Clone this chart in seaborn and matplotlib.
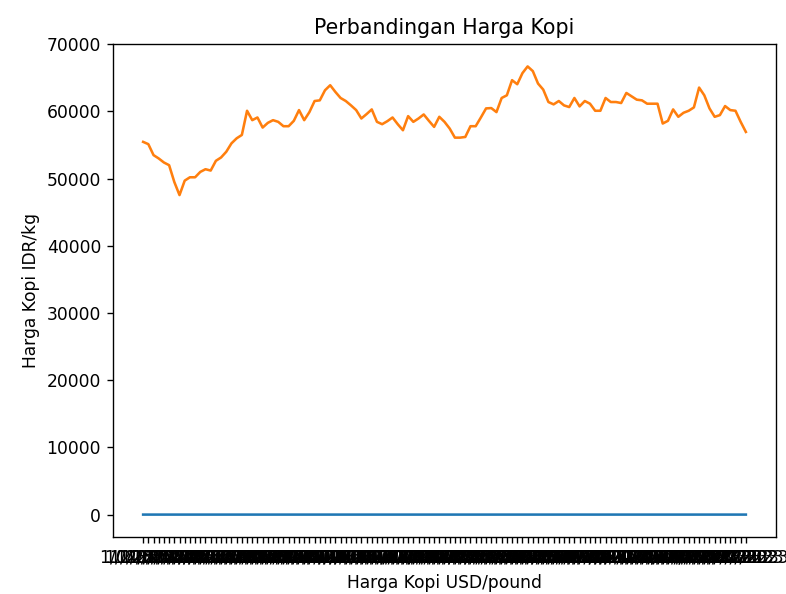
import pandas as pd
import numpy as np
import matplotlib
matplotlib.use('Agg')
import matplotlib.pyplot as plt
import seaborn as sns

# harga kopi IDR/kg
harga_idr = [
    55470, 55130, 53500, 53000, 52400, 52000, 49500, 47550, 49700, 50200,
    50200, 51000, 51400, 51200, 52650, 53150, 54000, 55250, 56000, 56500,
    60100, 58700, 59100, 57600, 58300, 58700, 58450, 57800, 57800, 58600,
    60200, 58700, 59900, 61550, 61650, 63150,
    63900, 62900, 62000, 61550, 60900, 60200, 58950, 59600, 60300, 58450,
    58100, 58550, 59100, 58100, 57200, 59300, 58450, 58950, 59550, 58600,
    57700, 59200, 58450, 57450, 56100, 56100, 56200, 57800, 57800, 59100,
    60450, 60500, 59900, 62000, 62400, 64650, 64050, 65700, 66700,
    66000, 64150, 63250, 61400, 61050, 61550, 60900, 60650, 62000, 60750,
    61550, 61150, 60100, 60100, 62000, 61400, 61400, 61250, 62750, 62250,
    61750, 61650, 61150, 61150, 61150, 58200, 58600, 60300, 59200, 59800,
    60100, 60600, 63550, 62400, 60450, 59200, 59450, 60800, 60200, 60100,
    58450, 56950,
]

# harga kopi USD/pound
harga_usd = [
    1.79, 1.78, 1.73, 1.71, 1.69, 1.68, 1.60, 1.53, 1.60, 1.62,
    1.62, 1.65, 1.66, 1.65, 1.70, 1.71, 1.74, 1.78, 1.81, 1.82,
    1.94, 1.89, 1.91, 1.86, 1.88, 1.89, 1.89, 1.86, 1.86, 1.89,
    1.94, 1.89, 1.93, 1.99, 1.99, 2.04,
    2.06, 2.03, 2.00, 1.99, 1.96, 1.94, 1.90, 1.92, 1.95, 1.89,
    1.87, 1.89, 1.91, 1.87, 1.85, 1.91, 1.89, 1.90, 1.92, 1.89,
    1.86, 1.91, 1.89, 1.85, 1.81, 1.81, 1.81, 1.86, 1.86, 1.91,
    1.95, 1.95, 1.93, 2.00, 2.01, 2.09, 2.07, 2.12, 2.15,
    2.13, 2.07, 2.04, 1.98, 1.97, 1.99, 1.96, 1.96, 2.00, 1.96,
    1.99, 1.97, 1.94, 1.94, 2.00, 1.98, 1.98, 1.98, 2.02, 2.01,
    1.99, 1.99, 1.97, 1.97, 1.97, 1.88, 1.89, 1.95, 1.91, 1.93,
    1.94, 1.95, 2.05, 2.01, 1.95, 1.91, 1.92, 1.96, 1.94, 1.94,
    1.89, 1.84,
]

# tanggal (mingguan)
tanggal = [f"{d.month}/{d.day:02d}/{d.year}"
           for d in pd.date_range('2021-01-04', periods=len(harga_idr), freq='W-MON')]

df = pd.DataFrame({'tanggal': tanggal, 'usd': harga_usd, 'idr': harga_idr})

fig = plt.figure(figsize=(786 / 123, 594 / 123), dpi=123)
ax = fig.add_axes([113 / 786, 1 - 537 / 594, (776 - 113) / 786, (537 - 44) / 594])

sns.lineplot(data=df, x='tanggal', y='usd', ax=ax, color='C0')
sns.lineplot(data=df, x='tanggal', y='idr', ax=ax, color='C1')

ax.set_title('Perbandingan Harga Kopi')
ax.set_xlabel('Harga Kopi USD/pound')
ax.set_ylabel('Harga Kopi IDR/kg')

fig.savefig('out.png', dpi=123)
